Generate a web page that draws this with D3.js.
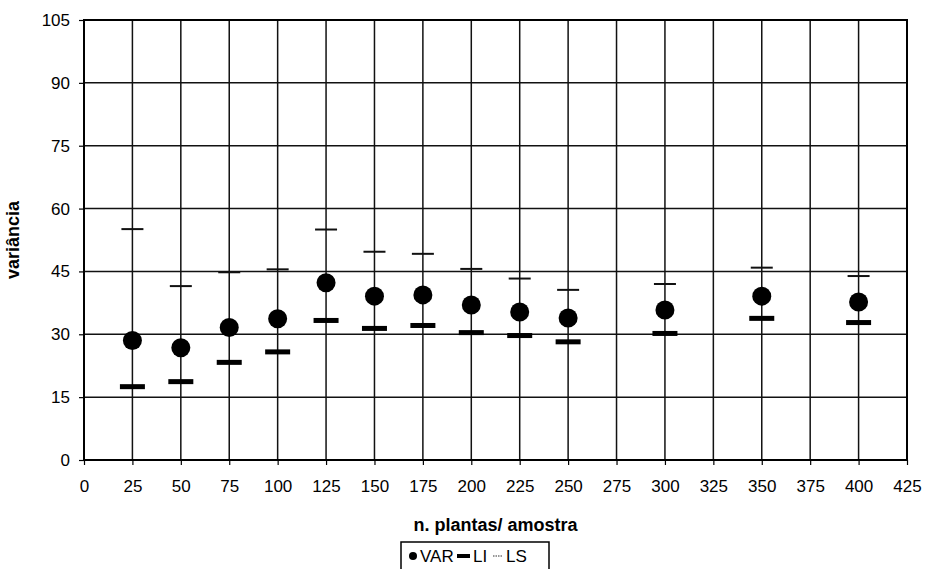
<!DOCTYPE html>
<html>
<head>
<meta charset="utf-8">
<script src="https://cdn.jsdelivr.net/npm/d3@7"></script>
<style>
  body { margin: 0; background: #fff; }
  svg { display: block; font-family: "Liberation Sans", Arial, sans-serif; }
</style>
</head>
<body>
<svg width="928" height="569"></svg>
<script>
// sample sizes (n. plantas/ amostra)
var plantas = [25, 50, 75, 100, 125, 150, 175, 200, 225, 250, 300, 350, 400];
// variance and its lower / upper limits
var VAR = [28.5, 26.8, 31.6, 33.7, 42.3, 39.1, 39.4, 37.0, 35.3, 33.9, 35.8, 39.1, 37.7];
var LI  = [17.5, 18.7, 23.3, 25.8, 33.3, 31.4, 32.1, 30.4, 29.7, 28.2, 30.2, 33.8, 32.8];
var LS  = [55.1, 41.5, 44.8, 45.5, 55.0, 49.7, 49.2, 45.6, 43.3, 40.6, 42.0, 45.9, 43.9];

var xTicks = d3.range(0, 426, 25);
var yTicks = d3.range(0, 106, 15);

// plot area (window.top is reserved, so use own names)
var pLeft = 84, pRight = 907, pTop = 20, pBottom = 460;

var svg = d3.select("svg");

var x = d3.scaleLinear().domain([0, 425]).range([pLeft, pRight]);
var y = d3.scaleLinear().domain([0, 105]).range([pBottom, pTop]);

var rows = plantas.map(function(d, i) {
    return { n: d, v: VAR[i], li: LI[i], ls: LS[i] };
});

// grid
svg.append("g")
    .selectAll("line")
    .data(yTicks)
    .enter()
    .append("line")
    .attr("x1", pLeft)
    .attr("x2", pRight)
    .attr("y1", function(d) { return y(d); })
    .attr("y2", function(d) { return y(d); })
    .style("stroke", "#111")
    .style("stroke-width", 1.5);

svg.append("g")
    .selectAll("line")
    .data(xTicks)
    .enter()
    .append("line")
    .attr("x1", function(d) { return x(d); })
    .attr("x2", function(d) { return x(d); })
    .attr("y1", pTop)
    .attr("y2", pBottom)
    .style("stroke", "#111")
    .style("stroke-width", 1.5);

// frame
svg.append("rect")
    .attr("x", pLeft)
    .attr("y", pTop)
    .attr("width", pRight - pLeft)
    .attr("height", pBottom - pTop)
    .style("fill", "none")
    .style("stroke", "#000")
    .style("stroke-width", 2);

// axes
var yAxis = svg.append("g")
    .attr("transform", "translate(" + pLeft + ",0)")
    .call(d3.axisLeft(y).tickValues(yTicks).tickSize(5).tickPadding(9).tickSizeOuter(0));

var xAxis = svg.append("g")
    .attr("transform", "translate(0," + pBottom + ")")
    .call(d3.axisBottom(x).tickValues(xTicks).tickSize(5).tickPadding(15).tickSizeOuter(0));

[yAxis, xAxis].forEach(function(a) {
    a.select(".domain").remove();
    a.selectAll("line").style("stroke", "#000").style("stroke-width", 1.2);
    a.selectAll("text")
        .style("font-family", "'Liberation Sans', Arial, sans-serif")
        .style("font-size", "17px")
        .style("fill", "#000");
});

// marks: LS (thin dash), LI (thick bar), VAR (circle)
svg.append("g")
    .selectAll("line")
    .data(rows)
    .enter()
    .append("line")
    .attr("x1", function(d) { return x(d.n) - 11; })
    .attr("x2", function(d) { return x(d.n) + 11; })
    .attr("y1", function(d) { return y(d.ls); })
    .attr("y2", function(d) { return y(d.ls); })
    .style("stroke", "#111")
    .style("stroke-width", 2);

svg.append("g")
    .selectAll("rect")
    .data(rows)
    .enter()
    .append("rect")
    .attr("x", function(d) { return x(d.n) - 12.5; })
    .attr("y", function(d) { return y(d.li) - 2.5; })
    .attr("width", 25)
    .attr("height", 5)
    .style("fill", "#000");

svg.append("g")
    .selectAll("circle")
    .data(rows)
    .enter()
    .append("circle")
    .attr("cx", function(d) { return x(d.n); })
    .attr("cy", function(d) { return y(d.v); })
    .attr("r", 9.5)
    .style("fill", "#000");

// axis titles
svg.append("text")
    .attr("x", (pLeft + pRight) / 2)
    .attr("y", 531)
    .attr("text-anchor", "middle")
    .style("font-size", "18px")
    .style("font-weight", "bold")
    .text("n. plantas/ amostra");

svg.append("text")
    .attr("transform", "translate(19," + (pTop + pBottom) / 2 + ") rotate(-90)")
    .attr("text-anchor", "middle")
    .style("font-size", "18px")
    .style("font-weight", "bold")
    .text("variância");

// legend
var lg = svg.append("g").attr("transform", "translate(401,542)");
lg.append("rect")
    .attr("width", 148)
    .attr("height", 34)
    .style("fill", "#fff")
    .style("stroke", "#000")
    .style("stroke-width", 1.5);
lg.append("circle").attr("cx", 12).attr("cy", 14).attr("r", 4).style("fill", "#000");
lg.append("text").attr("x", 19).attr("y", 20).style("font-size", "17px").text("VAR");
lg.append("rect").attr("x", 56).attr("y", 12).attr("width", 13).attr("height", 4).style("fill", "#000");
lg.append("text").attr("x", 72).attr("y", 20).style("font-size", "17px").text("LI");
lg.append("line").attr("x1", 92).attr("x2", 102).attr("y1", 14).attr("y2", 14)
    .style("stroke", "#333").style("stroke-width", 1.2).style("stroke-dasharray", "1.5,1");
lg.append("text").attr("x", 105).attr("y", 20).style("font-size", "17px").text("LS");
</script>
</body>
</html>
